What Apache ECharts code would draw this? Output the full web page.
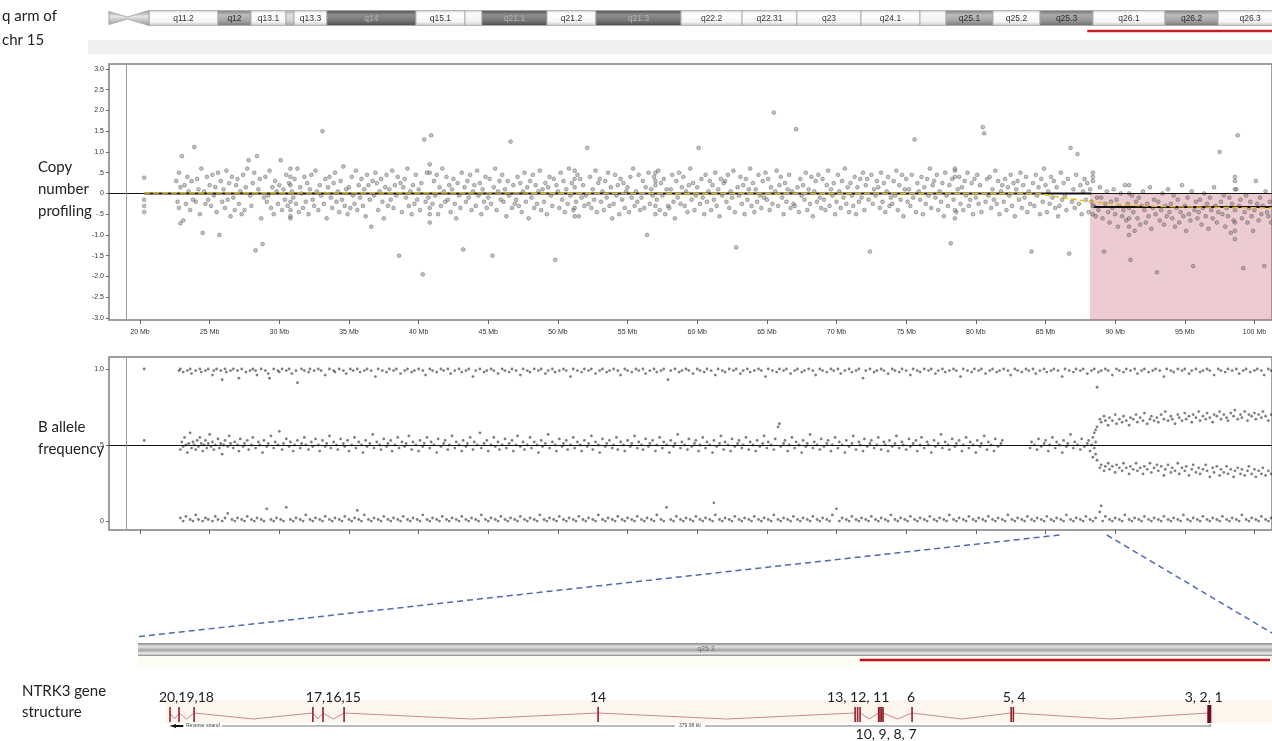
<!DOCTYPE html>
<html><head><meta charset="utf-8">
<script src="https://cdn.jsdelivr.net/npm/echarts@6/dist/echarts.min.js"></script>
<style>html,body{margin:0;padding:0;background:#fff}#c{width:1272px;height:741px}</style>
</head><body><div id="c"></div>
<script>
// ---------- DATA ----------
const xTicksMb = [20,25,30,35,40,45,50,55,60,65,70,75,80,85,90,95,100];
const cnTicks = [-3,-2.5,-2,-1.5,-1,-0.5,0,0.5,1,1.5,2,2.5,3];
const bafTicks = [0,0.5,1];
// ideogram bands of 15q (Mb)
const bandNames = ['q11.2','q12','q13.1','','q13.3','q14','q15.1','','q21.1','q21.2','q21.3','q22.2','q22.31','q23','q24.1','','q25.1','q25.2','q25.3','q26.1','q26.2','q26.3'];
const bandStart = [20.65,25.6,27.97,30.48,31.06,33.42,39.81,43.33,44.55,49.22,52.73,58.84,63.22,67.16,71.76,75.99,77.86,81.23,84.61,88.41,93.58,97.39];
const bandEnd   = [25.6,27.97,30.48,31.06,33.42,39.81,43.33,44.55,49.22,52.73,58.84,63.22,67.16,71.76,75.99,77.86,81.23,84.61,88.41,93.58,97.39,102.0];
const bandStain = ['w','g2','w','g1','w','g4','w','w0','g4','w','g4','w','w','w','w','w0','g2','w','g3','w','g2','w'];
const centromereMb = [17.77,19.1,20.65];
const delStartMb = 88.2;
const delEndMb = 101.3;
// copy number segments and smoothed trend
const segStart = [20.3, 88.5];
const segEnd = [88.3, 101.3];
const segValue = [0, -0.325];
const trendX = [20.3, 40, 60, 80, 84.1, 85.8, 87.0, 88.6, 90.5, 92.9, 96.5, 101.3];
const trendY = [0.01, 0.01, 0.0, 0.0, 0.0, -0.08, -0.14, -0.21, -0.27, -0.31, -0.33, -0.35];
const chrStartMb = 19.0;
const calloutMb = [86.0, 89.4];
// CN points: [Mb*10, log2ratio*100, ...]
const cnPts = [
203,38,203,-15,203,-30,203,-45,
226,30,227,-20,228,50,228,-35,229,15,229,-72,
230,90,231,-65,232,20,233,-25,234,40,235,5,236,-40,237,30,238,-15,239,112,
240,-20,241,35,242,10,243,-50,244,60,245,-95,246,5,247,-25,248,40,249,-15,
250,20,251,-30,252,45,253,-5,254,15,255,-45,256,50,257,-100,258,30,259,-20,
260,10,261,-35,262,55,263,-15,264,25,265,-55,266,40,267,-10,268,-40,269,20,
270,35,271,-25,272,5,273,-50,274,45,275,-40,276,15,277,60,278,80,279,-5,
280,-30,281,25,282,50,283,-137,284,90,285,10,286,35,287,-60,288,-122,289,-10,
290,40,291,-20,292,-5,293,55,294,-35,295,15,296,-50,297,30,298,5,299,-25,
300,20,301,80,302,-40,303,10,304,-15,305,45,306,-30,307,25,308,-55,309,5,
310,-10,311,35,312,-25,313,60,314,-45,315,15,316,0,317,-35,318,40,319,-20,
320,25,321,-50,322,10,323,45,324,-15,325,-30,326,55,327,5,328,-40,329,20,
330,-5,331,150,332,-25,333,35,334,-60,335,15,336,40,337,-10,338,-35,339,25,
340,50,341,-20,342,5,343,-45,344,30,345,-15,346,65,347,-30,348,10,349,-50,
350,15,351,-35,352,40,353,-5,354,-25,355,55,356,-40,357,20,358,-10,359,35,
360,-30,361,10,362,-55,363,45,364,20,365,-15,366,-80,367,30,368,-5,369,50,
370,25,371,-40,372,5,373,35,374,-20,375,-60,376,15,377,45,378,-30,379,10,
380,-15,381,55,382,-35,383,20,384,-5,385,40,386,-150,387,25,388,-45,389,15,
390,35,391,-10,392,60,393,-30,394,5,395,-50,396,20,397,-25,398,45,399,-15,
400,10,401,-40,402,25,403,-195,404,130,405,-20,406,50,407,-10,408,-35,409,140,
410,-25,411,30,412,-5,413,45,414,-50,415,15,416,-30,417,60,418,5,419,-20,
420,40,421,-15,422,20,423,-45,424,10,425,35,426,-25,427,-60,428,25,429,-5,
430,-35,431,50,432,-135,433,15,434,-20,435,30,436,-10,437,45,438,-40,439,5,
440,20,441,-30,442,55,443,-5,444,25,445,-50,446,10,447,-20,448,40,449,-35,
450,-10,451,35,452,-25,453,-150,454,15,455,60,456,-40,457,5,458,30,459,-15,
460,45,461,-20,462,10,463,-55,464,30,465,-5,466,125,467,-35,468,20,469,-25,
470,-15,471,40,472,-30,473,25,474,-45,475,5,476,50,477,-20,478,15,479,-60,
480,30,481,-10,482,45,483,-35,484,20,485,-25,486,5,487,55,488,-40,489,10,
490,-20,491,25,492,-50,493,15,494,40,495,-5,496,-30,497,35,498,-160,499,20,
500,5,501,-35,502,50,503,-15,504,30,505,-45,506,10,507,-25,508,60,509,-5,
510,25,511,-40,512,15,513,-20,514,45,515,-55,516,35,517,-10,518,20,519,-30,
520,-5,521,110,522,-25,523,40,524,-35,525,10,526,-15,527,55,528,-45,529,25,
530,35,531,-20,532,5,533,-40,534,30,535,-10,536,50,537,-30,538,15,539,-60,
540,-25,541,45,542,-5,543,20,544,-50,545,35,546,-15,547,25,548,-35,549,5,
550,15,551,-45,552,40,553,-10,554,60,555,-30,556,5,557,-20,558,45,559,-40,
560,-10,561,30,562,-35,563,15,564,-100,565,50,566,-25,567,10,568,-5,569,40,
570,20,571,-15,572,55,573,-40,574,25,575,-5,576,35,577,-50,578,10,579,-30,
580,-35,581,10,582,45,583,-20,584,-60,585,30,586,-10,587,50,588,-25,589,15,
590,40,591,-30,592,5,593,-45,594,20,595,60,596,-15,597,25,598,-40,599,-5,
600,15,601,110,602,-25,603,35,604,-10,605,-50,606,45,607,-20,608,5,609,30,
610,-40,611,20,612,-15,613,50,614,-30,615,10,616,-55,617,35,618,-5,619,25,
620,30,621,-20,622,45,623,-35,624,5,625,-10,626,55,627,-45,628,-130,629,15,
630,-5,631,40,632,-25,633,20,634,-50,635,35,636,-15,637,10,638,60,639,-30,
640,25,641,-45,642,10,643,-20,644,45,645,-5,646,-35,647,30,648,-10,649,50,
650,-15,651,35,652,-40,653,15,654,-25,655,195,656,5,657,55,658,-30,659,20,
660,40,661,-10,662,-50,663,25,664,-20,665,10,666,45,667,-35,668,5,669,-25,
670,-30,671,155,672,15,673,-45,674,35,675,-5,676,20,677,-15,678,50,679,-40,
680,10,681,-25,682,40,683,-55,684,5,685,30,686,-20,687,45,688,-10,689,-35,
690,35,691,-15,692,-40,693,20,694,55,695,-30,696,10,697,-5,698,25,699,-50,
700,-20,701,45,702,5,703,-35,704,30,705,-10,706,60,707,-25,708,15,709,-45,
710,25,711,-5,712,-30,713,40,714,-50,715,15,716,-20,717,35,718,-10,719,50,
720,-40,721,20,722,35,723,-15,724,-140,725,45,726,-25,727,10,728,-5,729,30,
730,15,731,-35,732,50,733,-20,734,25,735,-45,736,5,737,40,738,-30,739,-10,
740,-25,741,30,742,-5,743,55,744,-40,745,20,746,-15,747,45,748,-55,749,10,
750,35,751,-20,752,10,753,-30,754,45,755,-10,756,130,757,-45,758,25,759,5,
760,-15,761,40,762,-50,763,15,764,-25,765,35,766,-5,767,60,768,-35,769,20,
770,30,771,-10,772,45,773,-40,774,5,775,-20,776,25,777,-55,778,50,779,-5,
780,-30,781,20,782,-120,783,35,784,-15,785,55,786,-45,787,10,788,40,789,-25,
790,15,791,-40,792,30,793,-5,794,50,795,-30,796,-15,797,25,798,-50,799,35,
800,-10,801,45,802,-25,803,20,804,-45,805,160,806,145,807,-20,808,35,809,-5,
810,40,811,-35,812,10,813,-15,814,55,815,-25,816,30,817,-50,818,5,819,20,
820,-20,821,35,822,-40,823,15,824,-5,825,45,826,-30,827,25,828,-55,829,10,
830,30,831,-15,832,50,833,-35,834,20,835,-10,836,40,837,-45,838,5,839,-25,
840,-140,841,25,842,-30,843,45,844,-5,845,15,846,-50,847,35,848,-20,849,60,
850,20,851,-45,852,5,853,-25,854,40,855,-10,856,30,857,-35,858,15,859,-55,
860,-30,861,50,862,-15,863,25,864,-5,865,-40,866,35,867,-145,868,110,869,-20,
870,10,871,-35,872,45,873,95,874,-25,875,20,876,-50,877,5,878,35,879,-15,
880,25,881,-45,882,10,883,-20,884,40,885,-30,886,-55,887,-10,888,-40,889,15,
890,-10,891,-60,892,-140,893,-25,894,5,895,-45,896,-70,897,-20,898,-35,899,10,
900,-50,901,-15,902,-80,903,-30,904,0,905,-55,906,-40,907,20,908,-65,909,-25,
910,-35,911,-160,912,-5,913,-45,914,-90,915,-20,916,-60,917,-10,918,-75,919,-30,
920,5,921,-40,922,-70,923,-25,924,-55,925,15,926,-85,927,-35,928,-15,929,-50,
930,-190,931,-20,932,-65,933,-40,934,0,935,-75,936,-30,937,-55,938,10,939,-45,
940,-25,941,-60,942,-5,943,-80,944,-35,945,-15,946,-70,947,-45,948,20,949,-55,
950,-30,951,-90,952,-10,953,-50,954,-65,955,5,956,-175,957,-40,958,-20,959,-60,
960,-45,961,-15,962,-75,963,-35,964,0,965,-55,966,-25,967,-85,968,-10,969,-40,
970,-60,971,15,972,-30,973,-70,974,-45,975,100,976,-20,977,-50,978,-5,979,-80,
980,-35,981,-55,982,-10,983,-95,984,-25,985,-65,986,-40,987,10,988,140,989,-30,
990,-15,991,-60,992,-180,993,-45,994,-5,995,-70,996,-35,997,-20,998,-55,999,-90,
1000,-40,1001,30,1002,-25,1003,-65,1004,-10,1005,-50,1006,-30,1007,-175,1008,5,1009,-45,
1010,-55,1011,-20,1012,-70,1013,-35,
308,60,308,-60,308,40,308,-40,308,20,308,-20,
408,70,408,-70,408,50,408,-50,
512,55,512,-55,512,35,512,-35,
570,50,570,-50,570,30,570,-30,
785,60,785,-60,785,40,785,-40,
884,50,884,-50,884,30,884,-30,
910,20,910,-80,910,0,910,-60,910,-100,
986,30,986,-90,986,10,986,-70,986,-110,986,40
];
// B allele frequency points: [Mb*10, BAF*100, ...]
const bafHomHi = [
203,100,228,99,229,100,231,98,234,99,236,100,237,97,240,99,243,100,244,98,247,99,249,100,252,96,253,99,255,100,258,99,259,93,261,100,262,98,265,99,267,100,270,99,271,94,273,100,276,98,279,99,281,100,283,99,284,96,287,100,290,99,292,97,293,94,296,100,299,99,300,98,302,100,305,99,307,100,309,97,312,99,313,91,316,100,318,99,321,98,322,100,325,99,328,100,330,99,333,96,336,100,339,99,340,98,343,100,346,99,348,97,351,100,353,99,356,100,358,98,361,99,363,100,366,99,369,95,371,100,374,99,377,98,379,100,382,99,384,100,387,97,390,99,392,100,395,98,397,99,400,100,403,99,405,96,408,100,410,99,413,98,416,100,418,99,421,100,423,97,426,99,429,100,431,98,434,99,436,100,439,95,441,99,444,100,447,98,449,99,452,100,454,99,457,97,460,100,462,99,465,98,467,100,470,99,473,96,475,100,478,99,480,98,483,100,486,99,488,100,491,97,493,99,496,100,498,98,501,99,504,100,506,99,509,95,511,100,514,99,517,98,519,100,522,99,524,100,527,97,530,99,532,100,535,98,537,99,540,100,543,99,545,96,548,100,550,99,553,98,556,100,558,99,561,100,563,97,566,99,569,100,571,98,574,99,576,100,579,93,581,99,584,100,587,98,589,99,592,100,594,99,597,97,600,100,602,99,605,98,607,100,610,99,613,96,615,100,618,99,620,98,623,100,626,99,628,100,631,97,633,99,636,100,638,98,641,99,644,100,646,99,649,95,651,100,654,99,657,98,659,100,662,99,664,100,667,97,670,99,672,100,675,98,677,99,680,100,683,99,685,96,688,100,690,99,693,98,696,100,698,99,701,100,703,97,706,99,709,100,711,98,714,99,716,100,719,94,721,99,724,100,727,98,729,99,732,100,734,99,737,97,740,100,742,99,745,98,747,100,750,99,753,96,755,100,758,99,760,98,763,100,766,99,768,100,771,97,773,99,776,100,778,98,781,99,784,100,786,99,789,95,791,100,794,99,797,98,799,100,802,99,804,100,807,97,810,99,812,100,815,98,817,99,820,100,823,99,825,96,828,100,830,99,833,98,836,100,838,99,841,100,843,97,846,99,849,100,851,98,854,99,856,100,859,99,862,95,864,100,867,99,870,98,872,100,875,99,877,100,880,97,883,99,885,100,887,88,888,98,890,99,893,100,895,99,898,96,901,100,903,99,906,98,908,100,911,99,914,100,916,97,919,99,921,100,924,98,927,99,929,100,932,99,935,95,937,100,940,99,942,98,945,100,948,99,950,100,953,97,955,99,958,100,961,98,963,99,966,100,968,99,971,96,974,100,976,99,979,98,981,100,984,99,987,100,989,97,992,99,994,100,997,98,1000,99,1002,100,1005,99,1007,96,1010,100,1012,99
];
const bafHomLo = [
229,2,231,0,233,3,236,1,238,0,240,4,242,1,245,0,247,2,249,1,252,0,254,3,256,1,259,0,261,2,263,5,266,1,268,0,270,2,273,1,275,0,277,3,280,1,282,0,284,2,287,1,289,0,291,8,294,1,296,0,298,2,301,1,303,0,305,9,308,1,310,0,312,2,315,1,317,0,319,4,322,1,324,0,326,2,329,1,331,0,333,3,336,1,338,0,340,2,343,1,345,0,347,3,350,1,352,0,354,2,356,7,357,1,359,0,361,4,364,1,366,0,368,2,371,1,373,0,375,3,378,1,380,0,382,2,385,1,387,0,389,3,392,1,394,0,396,2,399,1,401,0,403,4,406,1,408,0,410,2,413,1,415,0,417,3,420,1,422,0,424,2,427,1,429,0,431,3,434,1,436,0,438,2,441,1,443,0,445,4,448,1,450,0,452,2,455,1,457,0,459,3,462,1,464,0,466,2,469,1,471,0,473,3,476,1,478,0,480,2,483,1,485,0,487,4,490,1,492,0,494,2,497,1,499,0,501,3,504,1,506,0,508,2,511,1,513,0,515,3,518,1,520,0,522,2,525,1,527,0,529,4,532,1,534,0,536,2,539,1,541,0,543,3,546,1,548,0,550,2,553,1,555,0,557,3,560,1,562,0,564,2,567,1,569,0,571,4,574,1,576,0,578,9,581,1,583,0,585,3,588,1,590,0,592,2,595,1,597,0,599,3,602,1,604,0,606,2,609,1,611,0,612,12,613,4,616,1,618,0,620,2,623,1,625,0,627,3,630,1,632,0,634,2,637,1,639,0,641,3,644,1,646,0,648,2,651,1,653,0,655,4,658,1,660,0,662,2,665,1,667,0,669,3,672,1,674,0,676,2,679,1,681,0,683,3,686,1,688,0,690,2,693,1,695,0,697,4,700,8,702,0,704,2,707,1,709,0,711,3,714,1,716,0,718,2,721,1,723,0,725,3,728,1,730,0,732,2,735,1,737,0,739,4,742,1,744,0,746,2,749,1,751,0,753,3,756,1,758,0,760,2,763,1,765,0,767,3,770,1,772,0,774,2,777,1,779,0,781,4,784,1,786,0,788,2,791,1,793,0,795,3,798,1,800,0,802,2,805,1,807,0,809,3,812,1,814,0,816,2,819,1,821,0,823,4,826,1,828,0,830,2,833,1,835,0,837,3,840,1,842,0,844,2,847,1,849,0,851,3,854,1,856,0,858,2,861,1,863,0,865,4,868,1,870,0,872,2,875,1,877,0,879,3,882,1,884,0,886,2,889,6,890,10,891,0,893,3,896,1,898,0,900,2,903,1,905,0,907,4,910,1,912,0,914,2,917,1,919,0,921,3,924,1,926,0,928,2,931,1,933,0,935,3,938,1,940,0,942,2,945,1,947,0,949,4,952,1,954,0,956,2,959,1,961,0,963,3,966,1,968,0,970,2,973,1,975,0,977,3,980,1,982,0,984,2,987,1,989,0,991,4,994,1,996,0,998,2,1001,1,1003,0,1005,3,1008,1,1010,0,1012,2
];
const bafHet = [
203,53,229,47,230,52,231,49,232,55,233,50,234,45,235,51,236,58,237,48,238,52,239,50,240,47,241,53,242,49,243,55,244,51,245,46,246,50,247,53,248,48,249,51,250,57,251,49,252,52,253,47,254,50,256,54,257,48,258,51,259,44,260,50,261,53,263,49,264,56,265,51,267,48,268,52,270,50,271,46,272,54,274,49,275,51,277,53,278,47,280,50,281,55,283,48,285,52,286,50,288,45,289,53,291,49,292,51,294,56,296,48,297,52,299,50,300,59,302,47,303,51,305,54,307,49,308,52,310,46,311,50,313,53,315,48,316,51,318,55,319,50,321,47,323,52,324,49,326,54,328,50,329,46,331,53,333,49,334,51,336,56,337,48,339,52,341,50,342,47,344,54,346,51,347,49,349,53,350,46,352,50,354,55,355,48,357,52,359,50,360,45,362,53,363,49,365,51,367,57,368,48,370,52,372,50,373,47,375,54,377,49,378,51,380,53,381,46,383,50,385,55,386,48,388,52,390,49,391,51,393,56,395,47,396,52,398,50,400,46,401,53,403,49,404,51,406,55,408,48,409,52,411,50,413,45,414,54,416,49,418,51,419,53,421,47,422,50,424,56,426,48,427,52,429,50,431,46,432,53,434,49,435,51,437,55,439,47,440,52,442,50,444,58,445,48,447,51,449,53,450,46,452,50,454,55,455,49,457,52,458,47,460,50,462,54,463,48,465,51,467,53,468,46,470,50,471,56,473,49,475,52,476,47,478,50,480,55,481,48,483,52,485,50,486,45,488,53,489,49,491,51,493,57,494,48,496,52,498,50,499,46,501,54,503,49,504,51,506,53,507,47,509,50,511,55,512,48,514,52,516,50,517,46,519,53,521,49,522,51,524,56,525,47,527,52,529,50,530,45,532,54,534,49,535,51,537,53,539,48,540,50,542,55,543,47,545,52,547,50,548,46,550,53,552,49,553,51,555,56,557,48,558,52,560,50,561,47,563,54,565,49,566,51,568,53,570,46,571,50,573,55,575,48,576,52,578,50,580,45,581,53,583,49,584,51,586,57,588,48,589,52,591,50,593,47,594,54,596,49,598,51,599,53,601,46,602,50,604,55,606,48,607,52,609,50,611,45,612,53,614,49,616,51,617,56,619,47,620,52,622,50,624,46,625,54,627,49,629,51,630,53,632,48,633,50,635,55,637,47,638,52,640,50,642,46,643,53,645,49,647,51,648,56,650,48,651,52,653,50,655,47,656,54,658,62,659,64,660,49,662,51,663,53,665,46,666,50,668,55,670,48,671,52,673,50,675,45,676,53,678,49,679,51,681,57,683,48,684,52,686,50,688,47,689,54,691,49,693,51,694,53,696,46,697,50,699,55,701,48,702,52,704,50,706,45,707,53,709,49,711,51,712,56,714,47,716,52,717,50,719,46,720,54,722,49,724,51,725,53,727,48,729,50,730,55,732,47,734,52,735,50,737,46,738,53,740,49,742,51,743,56,745,48,747,52,748,50,750,47,752,54,753,49,755,51,757,53,758,46,760,50,761,55,763,48,765,52,766,50,768,45,770,53,771,49,773,51,775,57,776,48,778,52,780,50,781,47,783,54,785,49,786,51,788,53,790,46,791,50,793,55,795,48,796,52,798,50,800,45,801,53,803,49,804,51,806,56,808,47,809,52,811,50,813,46,814,54,816,49,818,51,819,53,839,48,840,52,842,50,844,47,845,54,847,49,849,51,850,53,852,46,853,50,855,55,857,48,858,52,860,50,862,45,863,53,865,49,866,51,868,57,870,48,871,52,873,50,875,47,876,54,878,49,880,51,881,53,882,46,883,50,884,55,885,48,886,52,884,42,885,58,886,44,886,60
];
const bafSplitHi = [887,62,889,67,890,65,892,69,893,66,895,63,896,68,898,66,900,70,901,64,903,67,905,65,906,69,908,66,910,63,911,68,913,67,915,70,916,65,918,68,920,66,921,71,923,64,925,67,926,69,928,66,930,68,931,65,933,70,935,67,936,72,938,66,940,69,941,67,943,64,945,70,946,68,948,66,950,71,951,67,953,69,955,65,956,70,958,68,960,72,961,66,963,69,965,67,966,71,968,68,970,65,971,70,973,69,975,72,976,67,978,70,980,68,981,66,983,71,985,69,986,73,988,67,990,70,991,68,993,72,995,66,996,70,998,69,1000,71,1001,67,1003,70,1005,68,1006,72,1008,69,1010,66,1012,70];
const bafSplitLo = [887,40,889,35,890,37,892,33,893,36,895,38,896,34,898,36,900,32,901,37,903,35,905,33,906,38,908,35,910,31,911,36,913,34,915,38,916,33,918,35,920,31,921,36,923,34,925,38,926,32,928,35,930,37,931,33,933,36,935,30,936,34,938,37,940,32,941,35,943,33,945,38,946,31,948,35,950,33,951,36,953,30,955,34,956,37,958,32,960,35,961,31,963,34,965,37,966,33,968,29,970,35,971,32,973,36,975,30,976,34,978,32,980,36,981,31,983,34,985,29,986,33,988,35,990,31,991,34,993,30,995,33,996,36,998,31,1000,34,1001,29,1003,33,1005,31,1006,35,1008,30,1010,33,1012,31];
// NTRK3 gene structure (kb from exon 20, reverse strand)
const exonNumbers = [20,19,18,17,16,15,14,13,12,11,10,9,8,7,6,5,4,3,2,1];
const exonKb = [0,3.3,8.8,52.2,55.9,63.6,156.4,250.3,251.2,252.1,258.9,259.4,260.0,260.5,271.1,307.3,308.1,379.4,379.7,380.0];
const exonLabelText = ['20,19,18','17,16,15','14','13, 12, 11','6','5, 4','3, 2, 1','10, 9, 8, 7'];
const exonLabelKb = [6.0,59.7,156.4,251.4,270.7,308.4,377.6,261.6];
const exonLabelRow = [0,0,0,0,0,0,0,1];
const geneLenKb = 379.98;
const geneBreakKb = 252.0;
const zoomBandLabel = 'q25.3';
const zoomBandLabelKb = 195.8;

// ---------- CHART ----------
const toPts = a => { const r = []; for (let i = 0; i < a.length; i += 2) r.push([a[i] / 10, a[i + 1] / 100]); return r; };
const TF = 'Liberation Sans';
const LF = 'Lato';
const G = echarts.graphic;
const chart = echarts.init(document.getElementById('c'));

const stain = {
  w:  {c:[[0,'#c4c4c4'],[0.18,'#ffffff'],[0.75,'#f6f6f6'],[1,'#c0c0c0']], t:'#333'},
  w0: {c:[[0,'#cfcfcf'],[0.2,'#fafafa'],[0.75,'#f0f0f0'],[1,'#c8c8c8']], t:'#333'},
  g1: {c:[[0,'#a8a8a8'],[0.3,'#e2e2e2'],[0.7,'#cfcfcf'],[1,'#a0a0a0']], t:'#333'},
  g2: {c:[[0,'#7c7c7c'],[0.3,'#bdbdbd'],[0.7,'#a2a2a2'],[1,'#787878']], t:'#2a2a2a'},
  g3: {c:[[0,'#6f6f6f'],[0.3,'#ababab'],[0.7,'#939393'],[1,'#6c6c6c']], t:'#2a2a2a'},
  g4: {c:[[0,'#4e4e4e'],[0.3,'#8e8e8e'],[0.7,'#737373'],[1,'#4a4a4a']], t:'#b4b4b4'}
};
const grad = s => new G.LinearGradient(0,0,0,1, s.map(d => ({offset:d[0], color:d[1]})));

const fmtCn = v => { if (Math.abs(v) < 1e-9) return '0'; const a = Math.abs(v); const s = a < 1 ? '.5' : a.toFixed(1); return (v < 0 ? '-' : '') + s; };
const fmtBaf = v => v === 0 ? '0' : (v === 0.5 ? '.5' : '1.0');

const xAx = (gi, lbl) => ({
  type:'value', gridIndex:gi, min:17.775, max:101.26,
  axisLine:{show:false, onZero:false}, splitLine:{show:false},
  axisTick:{show:true, customValues:xTicksMb, length:4, lineStyle:{color:'#666', width:1}},
  axisLabel:{show:lbl, customValues:xTicksMb, formatter:v => v + ' Mb', fontSize:7, color:'#333', fontFamily:TF, margin:9}
});
const hid = (gi, mn, mx) => ({type:'value', gridIndex:gi, min:mn, max:mx, show:false});

const refLine = (yv) => ({
  silent:true, symbol:['none','none'], label:{show:false}, animation:false,
  data:[{yAxis:yv, lineStyle:{color:'#111', width:1, type:'solid'}},
        {xAxis:chrStartMb, lineStyle:{color:'#9a9a9a', width:1, type:'solid'}}]
});

const intronPairs = [];
for (let i = 0; i < exonKb.length - 1; i++) if (exonKb[i+1] - exonKb[i] > 1.2) intronPairs.push([exonKb[i], exonKb[i+1]]);

const option = {
  animation:false,
  backgroundColor:'#fff',
  grid:[
    {left:109, right:0, top:64, bottom:421, show:true, borderColor:'#7f7f7f', borderWidth:1.5, outerBoundsMode:'none'},
    {left:109, right:0, top:357, bottom:211, show:true, borderColor:'#7f7f7f', borderWidth:1.5, outerBoundsMode:'none'},
    {left:88, right:0, top:10.5, height:15, show:false, outerBoundsMode:'none'},
    {left:138, right:0, top:640, height:100, show:false, outerBoundsMode:'none'}
  ],
  xAxis:[xAx(0,true), xAx(1,false), hid(2,16.27,101.26), hid(3,-11.69,402.6)],
  yAxis:[
    {type:'value', gridIndex:0, min:-3.05, max:3.12, axisLine:{show:false, onZero:false}, splitLine:{show:false},
     axisTick:{show:true, customValues:cnTicks, length:3, lineStyle:{color:'#666'}},
     axisLabel:{customValues:cnTicks, formatter:fmtCn, fontSize:7, color:'#333', fontFamily:TF, margin:5}},
    {type:'value', gridIndex:1, min:-0.059, max:1.079, axisLine:{show:false, onZero:false}, splitLine:{show:false},
     axisTick:{show:true, customValues:bafTicks, length:3, lineStyle:{color:'#666'}},
     axisLabel:{customValues:bafTicks, formatter:fmtBaf, fontSize:7, color:'#333', fontFamily:TF, margin:5}},
    hid(2,0,1), hid(3,0,1)
  ],
  series:[
    // pink deleted region
    {type:'line', xAxisIndex:0, yAxisIndex:0, data:[[delStartMb,0]], symbol:'none', lineStyle:{width:0}, z:1,
     markArea:{silent:true, itemStyle:{color:'rgba(200,110,120,0.35)'}, data:[[{xAxis:delStartMb, yAxis:0},{xAxis:delEndMb, yAxis:-3.05}]]},
     markLine:refLine(0)},
    {type:'scatter', xAxisIndex:0, yAxisIndex:0, data:toPts(cnPts), symbolSize:3.8,
     itemStyle:{color:'rgba(120,120,120,0.55)', borderColor:'rgba(50,50,50,0.7)', borderWidth:0.6}, z:3, silent:true},
    {type:'line', xAxisIndex:0, yAxisIndex:0, data:[[segStart[0],segValue[0]],[segEnd[0],segValue[0]]], symbol:'none', lineStyle:{color:'#111', width:2}, z:4, silent:true},
    {type:'line', xAxisIndex:0, yAxisIndex:0, data:[[segStart[1],segValue[1]],[segEnd[1],segValue[1]]], symbol:'none', lineStyle:{color:'#111', width:2}, z:4, silent:true},
    {type:'line', xAxisIndex:0, yAxisIndex:0, data:trendX.map((x,i)=>[x,trendY[i]]), smooth:0.4, symbol:'none', lineStyle:{color:'#e3bd1c', width:1.4, type:[6,3]}, z:5, silent:true},
    // BAF
    {type:'scatter', xAxisIndex:1, yAxisIndex:1, data:toPts(bafHomHi).concat(toPts(bafHomLo), toPts(bafHet), toPts(bafSplitHi), toPts(bafSplitLo)),
     symbolSize:2.8, itemStyle:{color:'rgba(40,40,40,0.75)'}, z:3, silent:true, markLine:refLine(0.5)},
    // ideogram bands
    {type:'custom', xAxisIndex:2, yAxisIndex:2, silent:true, z:2,
     data:bandNames.map((n,i)=>[bandStart[i], bandEnd[i], i]),
     renderItem:(p, api) => {
       const cs = p.coordSys, i = api.value(2);
       const x0 = api.coord([api.value(0),0])[0], x1 = api.coord([api.value(1),0])[0];
       const st = stain[bandStain[i]];
       return {type:'group', children:[
         {type:'rect', shape:{x:x0, y:cs.y, width:x1-x0, height:cs.height}, style:{fill:grad(st.c), stroke:'#a9a9a9', lineWidth:0.5}},
         {type:'text', style:{text:bandNames[i], x:(x0+x1)/2, y:cs.y+cs.height/2+0.5, align:'center', verticalAlign:'middle', fontSize:8.5, fontFamily:TF, fill:st.t}}
       ]};
     }},
    // centromere
    {type:'custom', xAxisIndex:2, yAxisIndex:2, silent:true, z:2, data:[centromereMb],
     renderItem:(p, api) => {
       const cs = p.coordSys;
       const a = api.coord([api.value(0),0])[0], b = api.coord([api.value(1),0])[0], c = api.coord([api.value(2),0])[0];
       const t = cs.y, bt = cs.y+cs.height, m = cs.y+cs.height/2;
       return {type:'polygon', shape:{points:[[a,t+1],[b,m-1],[c,t],[c,bt],[b,m+1],[a,bt-1]]},
               style:{fill:grad([[0,'#9a9a9a'],[0.4,'#e4e4e4'],[1,'#9a9a9a']]), stroke:'#a0a0a0', lineWidth:0.5}};
     }},
    // top deletion bar
    {type:'custom', xAxisIndex:2, yAxisIndex:2, silent:true, z:2, data:[[delStartMb-0.2, delEndMb]],
     renderItem:(p, api) => {
       const cs = p.coordSys;
       const x0 = api.coord([api.value(0),0])[0], x1 = api.coord([api.value(1),0])[0];
       const y = cs.y + cs.height + 5.5;
       return {type:'line', shape:{x1:x0, y1:y, x2:x1, y2:y}, style:{stroke:'#c52028', lineWidth:2.6}};
     }},
    // zoomed band bar + label + deletion line
    {type:'custom', xAxisIndex:3, yAxisIndex:3, silent:true, z:2, data:[[-11.69, 402.6, zoomBandLabelKb, geneBreakKb]],
     renderItem:(p, api) => {
       const cs = p.coordSys;
       const x0 = api.coord([api.value(0),0])[0], x1 = api.coord([api.value(1),0])[0];
       const xl = api.coord([api.value(2),0])[0], xb = api.coord([api.value(3),0])[0];
       return {type:'group', children:[
         {type:'rect', shape:{x:x0, y:cs.y+16, width:x1-x0, height:12}, style:{fill:'#fdfdf5'}},
         {type:'rect', shape:{x:x0, y:cs.y+3, width:x1-x0, height:13},
          style:{fill:grad([[0,'#8a8a8a'],[0.28,'#e4e4e4'],[0.55,'#a4a4a4'],[0.8,'#ececec'],[1,'#8c8c8c']])}},
         {type:'text', style:{text:zoomBandLabel, x:xl, y:cs.y+9.5, align:'center', verticalAlign:'middle', fontSize:7, fontFamily:TF, fill:'#6d6d6d'}},
         {type:'line', shape:{x1:xb, y1:cs.y+20, x2:x1-2, y2:cs.y+20}, style:{stroke:'#c0141e', lineWidth:2.6}}
       ]};
     }},
    // gene track background + strand line
    {type:'custom', xAxisIndex:3, yAxisIndex:3, silent:true, z:2, data:[[-1.8, 402.6, 0, geneLenKb]],
     renderItem:(p, api) => {
       const cs = p.coordSys;
       const x0 = api.coord([api.value(0),0])[0], x1 = api.coord([api.value(1),0])[0];
       const s0 = api.coord([api.value(2),0])[0], s1 = api.coord([api.value(3),0])[0];
       const ys = cs.y + 86;
       return {type:'group', children:[
         {type:'rect', shape:{x:x0, y:cs.y+60, width:x1-x0, height:23}, style:{fill:'#fcf6ec'}},
         {type:'line', shape:{x1:s0, y1:ys, x2:s1, y2:ys}, style:{stroke:'#555', lineWidth:0.8}},
         {type:'line', shape:{x1:s1, y1:ys-2, x2:s1, y2:ys+1}, style:{stroke:'#555', lineWidth:0.8}},
         {type:'line', shape:{x1:s0+4, y1:ys, x2:s0+13, y2:ys}, style:{stroke:'#111', lineWidth:2}},
         {type:'polygon', shape:{points:[[s0,ys],[s0+6,ys-2],[s0+6,ys+2]]}, style:{fill:'#111'}},
         {type:'text', style:{text:'Reverse strand', x:s0+14, y:ys, verticalAlign:'middle', fontSize:5, fontFamily:TF, fill:'#444', backgroundColor:'#fff', padding:[0,2]}},
         {type:'text', style:{text:geneLenKb + ' kb', x:(s0+s1)/2, y:ys, align:'center', verticalAlign:'middle', fontSize:5, fontFamily:TF, fill:'#444', backgroundColor:'#fff', padding:[0,4]}}
       ]};
     }},
    // introns
    {type:'custom', xAxisIndex:3, yAxisIndex:3, silent:true, z:3, data:intronPairs,
     renderItem:(p, api) => {
       const cs = p.coordSys;
       const a = api.coord([api.value(0),0])[0], b = api.coord([api.value(1),0])[0];
       return {type:'polyline', shape:{points:[[a,cs.y+73],[(a+b)/2,cs.y+79],[b,cs.y+73]]}, style:{stroke:'#c98a90', lineWidth:1, fill:null}};
     }},
    // exons
    {type:'custom', xAxisIndex:3, yAxisIndex:3, silent:true, z:4, data:exonKb.map((k,i)=>[k, exonNumbers[i]]),
     renderItem:(p, api) => {
       const cs = p.coordSys;
       const x = api.coord([api.value(0),0])[0];
       const n = api.value(1);
       const w = n <= 3 ? 2.4 : 1.6;
       return {type:'rect', shape:{x:x-w/2, y:cs.y+(n<=3?65:67), width:w, height:(n<=3?18:15)}, style:{fill: n<=3 ? '#6e0f1a' : '#93202b'}};
     }},
    // exon labels
    {type:'custom', xAxisIndex:3, yAxisIndex:3, silent:true, z:5, data:exonLabelKb.map((k,i)=>[k, exonLabelRow[i], i]),
     renderItem:(p, api) => {
       const cs = p.coordSys;
       const x = api.coord([api.value(0),0])[0];
       const row = api.value(1), i = api.value(2);
       return {type:'text', style:{text:exonLabelText[i], x:x, y:cs.y + (row ? 94 : 57), align:'center', verticalAlign:'middle', fontSize:14, fontFamily:LF, fill:'#1c1c1c'}};
     }}
  ],
  graphic:[
    {type:'rect', shape:{x:88, y:40, width:1184, height:14}, style:{fill:'#efefef'}, silent:true},
    {type:'text', style:{text:'q arm of', x:2, y:16, verticalAlign:'middle', fontSize:15, fontFamily:LF, fill:'#222'}},
    {type:'text', style:{text:'chr 15', x:2, y:40, verticalAlign:'middle', fontSize:15, fontFamily:LF, fill:'#222'}},
    {type:'text', style:{text:'Copy', x:38, y:167, verticalAlign:'middle', fontSize:15, fontFamily:LF, fill:'#222'}},
    {type:'text', style:{text:'number', x:38, y:189, verticalAlign:'middle', fontSize:15, fontFamily:LF, fill:'#222'}},
    {type:'text', style:{text:'profiling', x:38, y:211, verticalAlign:'middle', fontSize:15, fontFamily:LF, fill:'#222'}},
    {type:'text', style:{text:'B allele', x:38, y:427, verticalAlign:'middle', fontSize:15, fontFamily:LF, fill:'#222'}},
    {type:'text', style:{text:'frequency', x:38, y:449, verticalAlign:'middle', fontSize:15, fontFamily:LF, fill:'#222'}},
    {type:'text', style:{text:'NTRK3 gene', x:22, y:691, verticalAlign:'middle', fontSize:15, fontFamily:LF, fill:'#222'}},
    {type:'text', style:{text:'structure', x:22, y:712, verticalAlign:'middle', fontSize:15, fontFamily:LF, fill:'#222'}}
  ]
};
chart.setOption(option);

// callout dashed lines from BAF panel to the zoomed gene view
const cx0 = chart.convertToPixel({xAxisIndex:1}, calloutMb[0]);
const cx1 = chart.convertToPixel({xAxisIndex:1}, calloutMb[1]);
const gl = chart.convertToPixel({xAxisIndex:3}, -12.8);
const gr = chart.convertToPixel({xAxisIndex:3}, 402.6);
option.graphic.push(
  {type:'line', shape:{x1:cx0, y1:535, x2:gl, y2:637}, style:{stroke:'#4d6cb3', lineWidth:1.5, lineDash:[6,4]}, silent:true},
  {type:'line', shape:{x1:cx1, y1:535, x2:gr, y2:633}, style:{stroke:'#4d6cb3', lineWidth:1.5, lineDash:[6,4]}, silent:true}
);
chart.setOption({graphic:option.graphic});
</script>
</body></html>
